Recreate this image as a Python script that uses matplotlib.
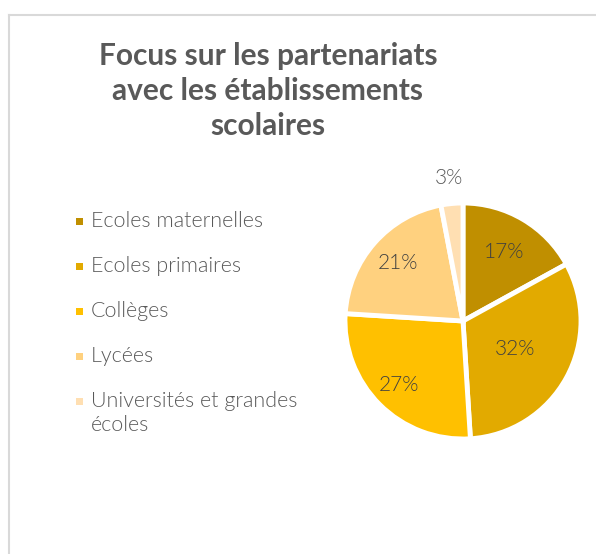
import matplotlib.pyplot as plt
from matplotlib.patches import Rectangle
from matplotlib.lines import Line2D
import numpy as np

categories = ["Ecoles maternelles", "Ecoles primaires", "Collèges", "Lycées",
              "Universités et grandes\nécoles"]
values = [17, 32, 27, 21, 3]
colors = ["#C08F00", "#E2AA00", "#FFC000", "#FFD17F", "#FFDFB2"]
title = "Focus sur les partenariats\navec les établissements\nscolaires"

TEXT = "#595959"
W, H = 596, 554


def main():
    fig = plt.figure(figsize=(W / 100, H / 100), dpi=100)

    # frame lines (top and left only visible)
    fig.add_artist(Line2D([9 / W, 9 / W], [0, 1 - 15 / H], color="#d9d9d9", lw=1.5))
    fig.add_artist(Line2D([9 / W, 1], [1 - 15 / H, 1 - 15 / H], color="#d9d9d9", lw=1.5))

    fig.text(268 / W, 1 - 42 / H, title, ha="center", va="top", fontsize=21.5,
             fontweight="bold", family="Lato", color=TEXT, linespacing=1.3)

    # pie
    r_px = 118
    box = 160
    ax = fig.add_axes([(463 - box) / W, (H - 321 - box) / H, 2 * box / W, 2 * box / H])
    wedges, _, autotexts = ax.pie(values, colors=colors, startangle=90, counterclock=False,
                                  radius=1, autopct="%1.0f%%", pctdistance=0.65,
                                  wedgeprops=dict(edgecolor="white", linewidth=3.5))
    lim = box / r_px
    ax.set_xlim(-lim, lim)
    ax.set_ylim(-lim, lim)
    ax.set_aspect("equal")
    ax.axis("off")

    dists = [0.68, 0.50, 0.77, 0.74, 1.22]
    for w, t, d in zip(wedges, autotexts, dists):
        ang = np.deg2rad((w.theta1 + w.theta2) / 2)
        t.set_position((d * np.cos(ang), d * np.sin(ang)))
        t.set_fontsize(15)
        t.set_family("Lato")
        t.set_fontweight(300)
        t.set_color(TEXT if d > 1 else "#404040")

    # legend
    for i, (cat, col) in enumerate(zip(categories, colors)):
        y = 221 + 45 * i
        fig.add_artist(Rectangle((76 / W, 1 - (y + 4) / H), 7 / W, 7 / H,
                                 facecolor=col, edgecolor="none"))
        fig.text(91 / W, 1 - (y - 10) / H, cat, ha="left", va="top", fontsize=15.5,
                 family="Lato", fontweight=300, color=TEXT, linespacing=1.25)

    fig.savefig("out.png", dpi=100, facecolor="white")


if __name__ == "__main__":
    main()
